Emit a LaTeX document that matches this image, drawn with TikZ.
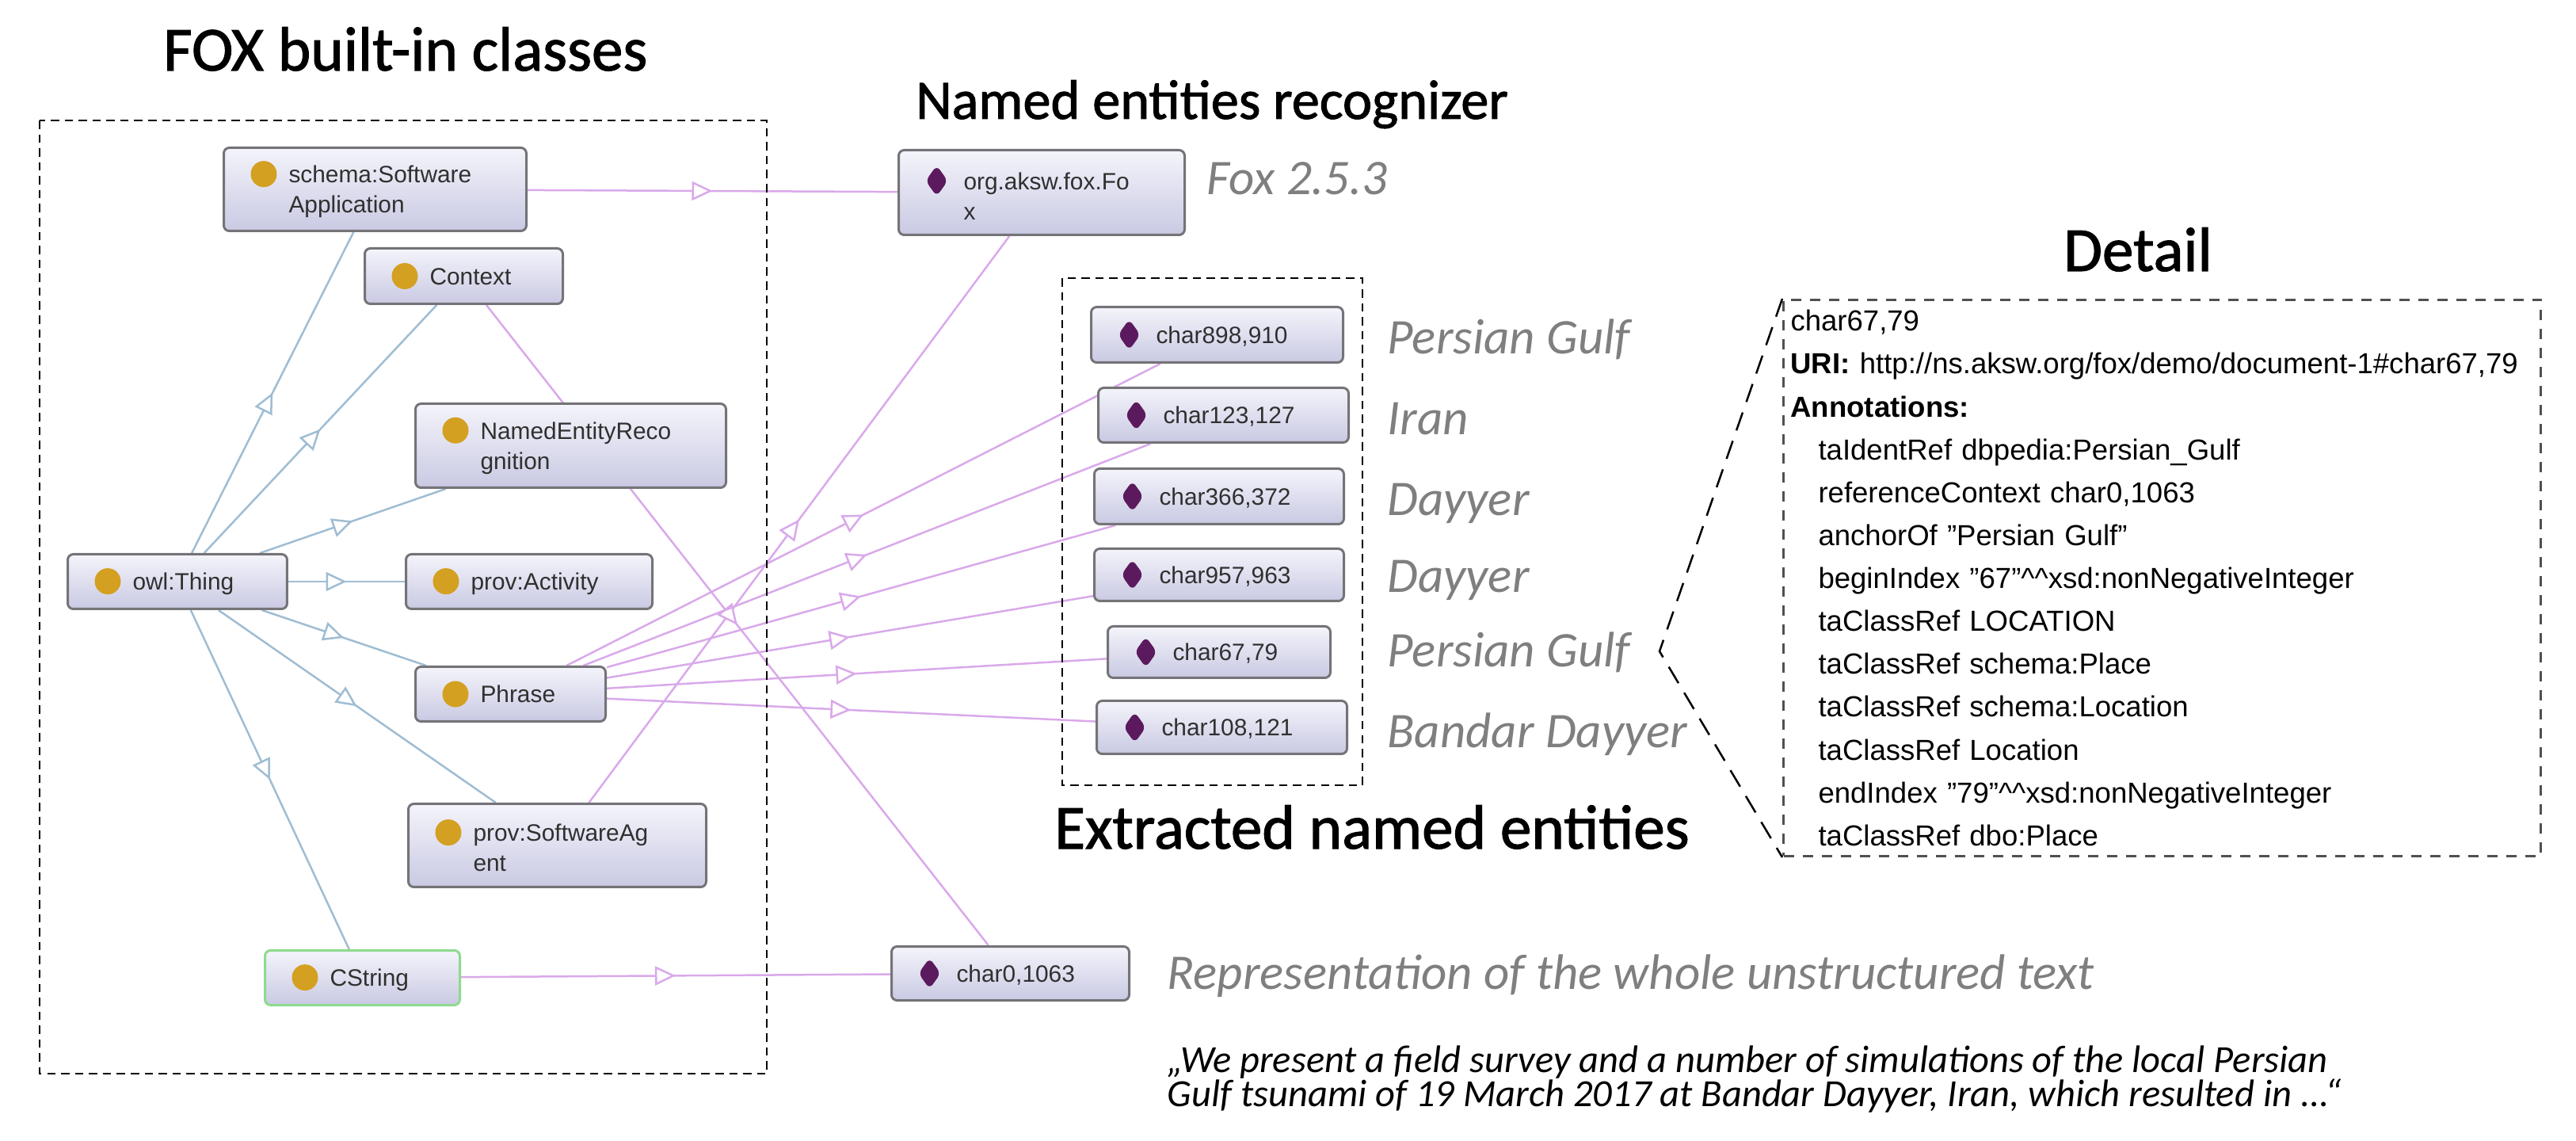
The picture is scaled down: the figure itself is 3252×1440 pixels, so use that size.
\documentclass[tikz,border=0pt]{standalone}
\usepackage{fontspec}
\usepackage{xcolor}
\usepackage{tikz}
\usetikzlibrary{arrows.meta, positioning, decorations.markings, backgrounds}
\setmainfont{Liberation Sans}
\newfontfamily\calibri{Carlito}
\newfontfamily\headfont[FakeBold=1.4]{Carlito}
\definecolor{boxtop}{HTML}{F4F4FB}
\definecolor{boxbottom}{HTML}{C9C9E3}
\definecolor{boxline}{HTML}{747478}
\definecolor{boxtext}{HTML}{303030}
\definecolor{classgold}{HTML}{D4A021}
\definecolor{indivpurple}{HTML}{5C1A5E}
\definecolor{isablue}{HTML}{9FBDD3}
\definecolor{instpink}{HTML}{D9A9EA}
\definecolor{stringgreen}{HTML}{8FDA8F}
\definecolor{labelgray}{HTML}{7F7F7F}
\definecolor{detailline}{HTML}{505050}
\newcommand{\classdot}{%
    \tikz[baseline=-1.1mm]\fill[classgold] (0,0) circle (1.65mm);%
}
\newcommand{\indivdot}{%
    \tikz[baseline=-1.1mm]\fill[indivpurple] (0,1.95mm) -- (1.4mm,0) -- (0,-1.95mm) -- (-1.4mm,0) -- cycle;%
}
\newcommand{\annotindent}{\hspace*{3.5mm}}

\begin{document}
\begin{tikzpicture}[
        x=0.1mm, y=-0.1mm,
        owlbox/.style={
            draw=boxline,
            line width=0.3mm,
            rounded corners=0.7mm,
            top color=boxtop,
            bottom color=boxbottom,
            anchor=north west,
            inner xsep=3.4mm,
            inner ysep=0pt,
            minimum height=6.9mm,
            align=left,
            text=boxtext,
            font=\fontsize{8.5}{10.8}\selectfont
        },
        midtip/.style={
            postaction={decorate},
            decoration={markings, mark=at position 0.5 with {\arrow[#1]{Triangle[open, length=2.6mm, width=2.4mm, fill=white]}}}
        },
        isa/.style={draw=isablue, line width=0.25mm, midtip=isablue},
        inst/.style={draw=instpink, line width=0.25mm, midtip=instpink},
        groupframe/.style={densely dashed, line width=0.25mm},
        heading/.style={font=\headfont\fontsize{22.5}{27}\selectfont, anchor=base},
        graylabel/.style={font=\calibri\itshape\fontsize{17.9}{21}\selectfont, text=labelgray, anchor=base west, inner sep=0pt},
        detailbox/.style={
            draw=detailline,
            dash pattern=on 1.3mm off 1.1mm,
            line width=0.3mm,
            anchor=north west,
            text width=93.8mm,
            inner xsep=0.9mm,
            inner ysep=0.8mm,
            minimum height=70.2mm,
            align=left,
            font=\fontsize{10.4}{15.4}\selectfont
        },
        brace/.style={dash pattern=on 2.4mm off 1.4mm, line width=0.25mm}
    ]
        \useasboundingbox (0,0) rectangle (3252,1440);

        % headings
        \node[heading] (foxtitle) at (512,89) {FOX built-in classes};
        \node[heading, font=\headfont\fontsize{20}{24}\selectfont] (nertitle) at (1530,150) {Named entities recognizer};
        \node[heading] (extitle) at (1732,1071) {Extracted named entities};
        \node[heading] (detailtitle) at (2699,342) {Detail};

        % group frames
        \draw[groupframe] (50,152) rectangle (968,1355);
        \draw[groupframe] (1341,351) rectangle (1720,991);

        % classes
        \node[owlbox, text width=31.4mm, minimum height=10.5mm] (sa) at (281,185) {\classdot\hspace{1.5mm}schema:Software\\\hspace*{4.8mm}Application};
        \node[owlbox, text width=18.2mm, minimum height=7mm] (context) at (459,312) {\classdot\hspace{1.5mm}Context};
        \node[owlbox, text width=32.4mm, minimum height=10.6mm] (ner) at (523,508) {\classdot\hspace{1.5mm}NamedEntityReco\\\hspace*{4.8mm}gnition};
        \node[owlbox, text width=20.9mm] (thing) at (84,698) {\classdot\hspace{1.5mm}owl:Thing};
        \node[owlbox, text width=24.3mm] (activity) at (511,698) {\classdot\hspace{1.5mm}prov:Activity};
        \node[owlbox, text width=17.2mm] (phrase) at (523,840) {\classdot\hspace{1.5mm}Phrase};
        \node[owlbox, text width=30.8mm, minimum height=10.5mm] (agent) at (514,1013) {\classdot\hspace{1.5mm}prov:SoftwareAg\\\hspace*{4.8mm}ent};
        \node[owlbox, draw=stringgreen, text width=17.8mm] (cstring) at (333,1198) {\classdot\hspace{1.5mm}CString};

        % individuals
        \node[owlbox, text width=29.3mm, minimum height=10.7mm] (fox) at (1133,188) {\indivdot\hspace{2mm}org.aksw.fox.Fo\\\hspace*{4.8mm}x};
        \node[owlbox, text width=25.0mm, minimum height=7mm] (c898) at (1376,386) {\indivdot\hspace{2mm}char898,910};
        \node[owlbox, text width=24.8mm] (c123) at (1385,488) {\indivdot\hspace{2mm}char123,127};
        \node[owlbox, text width=24.7mm, minimum height=7mm] (c366) at (1380,590) {\indivdot\hspace{2mm}char366,372};
        \node[owlbox, text width=24.7mm, minimum height=6.6mm] (c957) at (1380,691) {\indivdot\hspace{2mm}char957,963};
        \node[owlbox, text width=21.3mm, minimum height=6.5mm] (c67) at (1397,789) {\indivdot\hspace{2mm}char67,79};
        \node[owlbox, text width=24.8mm, minimum height=6.7mm] (c108) at (1383,883) {\indivdot\hspace{2mm}char108,121};
        \node[owlbox, text width=23.2mm, minimum height=6.8mm] (char0) at (1124,1193) {\indivdot\hspace{2mm}char0,1063};

        % gray annotations
        \node[graylabel] (foxver) at (1523,246) {Fox 2.5.3};
        \node[graylabel] (pg1) at (1751,447) {Persian Gulf};
        \node[graylabel] (iran) at (1751,549) {Iran};
        \node[graylabel] (dayyer1) at (1751,651) {Dayyer};
        \node[graylabel] (dayyer2) at (1751,748) {Dayyer};
        \node[graylabel] (pg2) at (1751,842) {Persian Gulf};
        \node[graylabel] (bandar) at (1751,944) {Bandar Dayyer};
        \node[graylabel] (wholetext) at (1473,1248) {Representation of the whole unstructured text};
        \node[anchor=north west, inner sep=0pt, align=left, font=\calibri\itshape\fontsize{13.8}{12.3}\selectfont] (abstract) at (1473,1319)
            {„We present a field survey and a number of simulations of the local Persian\\Gulf tsunami of 19 March 2017 at Bandar Dayyer, Iran, which resulted in ...“};

        % detail of char67,79
        \node[detailbox] (detail) at (2250,377) {%
            char67,79\\
            \textbf{URI:} http://ns.aksw.org/fox/demo/document-1\#char67,79\\
            \textbf{Annotations:}\\
            \annotindent taIdentRef dbpedia:Persian\_Gulf\\
            \annotindent referenceContext char0,1063\\
            \annotindent anchorOf "Persian Gulf"\\
            \annotindent beginIndex "67"\textasciicircum\textasciicircum xsd:nonNegativeInteger\\
            \annotindent taClassRef LOCATION\\
            \annotindent taClassRef schema:Place\\
            \annotindent taClassRef schema:Location\\
            \annotindent taClassRef Location\\
            \annotindent endIndex "79"\textasciicircum\textasciicircum xsd:nonNegativeInteger\\
            \annotindent taClassRef dbo:Place};
        \coordinate (apex) at (2095,822);
        \draw[brace] (detail.north west) -- (apex) -- (detail.south west);

        % edges
        \begin{pgfonlayer}{background}
            \foreach \sub in {sa, context, ner, activity, phrase, agent, cstring}
                \draw[isa] (thing) -- (\sub);
            \draw[inst] (sa) -- (fox);
            \draw[inst] (agent) -- (fox);
            \draw[inst] (context) -- (char0);
            \draw[inst] (cstring) -- (char0);
            \foreach \ent in {c898, c123, c366, c957, c67, c108}
                \draw[inst] (phrase) -- (\ent);
        \end{pgfonlayer}
    \end{tikzpicture}
\end{document}
